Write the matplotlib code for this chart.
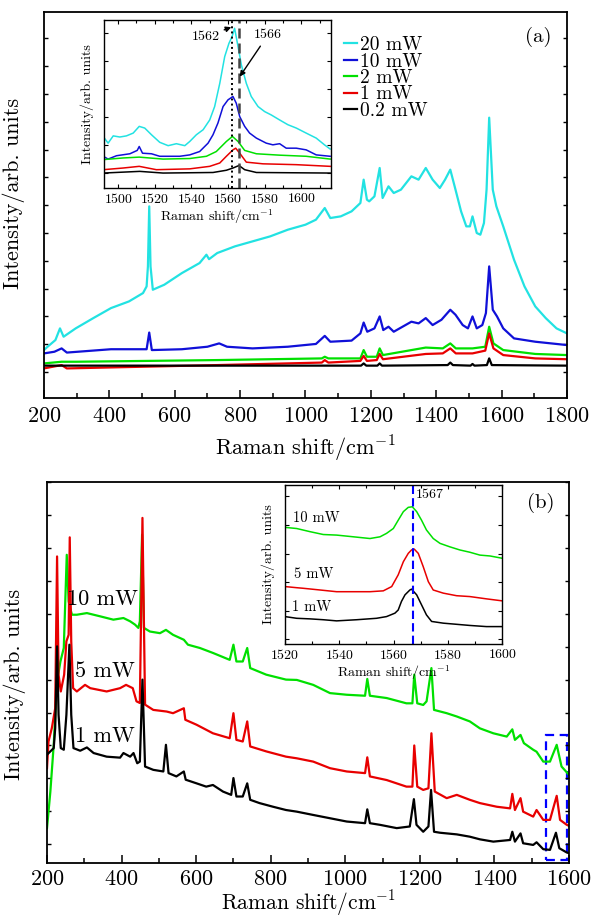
import matplotlib
matplotlib.use('Agg')
import matplotlib.pyplot as plt
from matplotlib.patches import Rectangle
from matplotlib.ticker import MultipleLocator, NullFormatter

plt.rcParams['font.family'] = 'serif'
plt.rcParams['font.serif'] = ['cmr10']
plt.rcParams['mathtext.fontset'] = 'cm'
plt.rcParams['axes.unicode_minus'] = False
plt.rcParams['axes.formatter.use_mathtext'] = True

# ---------------- (a) power series, full range ----------------
a_powers = ['20 mW', '10 mW', '2 mW', '1 mW', '0.2 mW']
a_colors = ['#22e2e2', '#1010d8', '#00e000', '#e80000', '#000000']

a20_x = [200, 211, 235, 249, 260, 297, 351, 405, 460, 503, 514, 518, 522, 526, 533, 568, 622, 676, 697, 705,
         730, 784, 838, 892, 946, 1000, 1032, 1059, 1076, 1108, 1141, 1168, 1178, 1188, 1195, 1211, 1227, 1236,
         1254, 1270, 1292, 1324, 1346, 1368, 1389, 1411, 1427, 1443, 1459, 1476, 1492, 1503, 1511, 1524, 1535,
         1546, 1554, 1562, 1573, 1584, 1605, 1638, 1670, 1703, 1735, 1768, 1800]
a20_y = [0.79, 0.91, 1.15, 1.57, 1.27, 1.57, 1.94, 2.30, 2.54, 2.84, 3.08, 3.80, 5.96, 3.80, 2.96, 3.14, 3.56,
         3.92, 4.22, 4.06, 4.28, 4.52, 4.70, 4.88, 5.12, 5.30, 5.48, 5.90, 5.54, 5.60, 5.78, 6.08, 6.92, 6.20,
         6.14, 6.32, 7.34, 6.26, 6.68, 6.44, 6.56, 7.04, 6.92, 7.34, 6.92, 6.62, 6.92, 7.28, 6.56, 5.78, 5.24,
         5.24, 5.60, 5.00, 4.94, 5.36, 6.56, 9.15, 6.56, 5.96, 5.24, 4.04, 3.08, 2.36, 1.94, 1.57, 1.39]

a10_x = [200, 232, 254, 270, 405, 460, 514, 522, 530, 622, 700, 736, 760, 838, 946, 1032, 1059, 1076, 1141,
         1168, 1178, 1189, 1211, 1227, 1238, 1254, 1270, 1324, 1346, 1368, 1389, 1416, 1443, 1459, 1481, 1497,
         1511, 1524, 1541, 1552, 1562, 1573, 1586, 1605, 1638, 1703, 1800]
a10_y = [0.67, 0.73, 0.85, 0.70, 0.82, 0.82, 0.82, 1.42, 0.79, 0.82, 0.91, 1.03, 0.91, 0.85, 0.91, 1.01, 1.30,
         1.09, 1.13, 1.39, 1.78, 1.45, 1.57, 2.00, 1.51, 1.63, 1.45, 1.81, 1.75, 1.94, 1.69, 1.88, 2.24, 2.06,
         1.69, 1.57, 2.00, 1.57, 1.69, 2.12, 3.80, 2.24, 2.00, 1.57, 1.21, 1.09, 0.97]

a2_x = [200, 254, 300, 730, 1050, 1059, 1070, 1168, 1178, 1188, 1218, 1227, 1237, 1368, 1420, 1443, 1460,
        1511, 1550, 1562, 1575, 1605, 1703, 1800]
a2_y = [0.31, 0.37, 0.37, 0.43, 0.49, 0.55, 0.49, 0.49, 0.79, 0.55, 0.55, 0.85, 0.61, 0.88, 0.85, 1.03, 0.85,
        0.85, 0.91, 1.63, 1.03, 0.79, 0.65, 0.61]

a1_x = [200, 254, 270, 730, 1050, 1059, 1070, 1168, 1178, 1188, 1218, 1227, 1237, 1368, 1420, 1443, 1460,
        1511, 1550, 1562, 1575, 1605, 1703, 1800]
a1_y = [0.13, 0.25, 0.13, 0.25, 0.34, 0.43, 0.34, 0.40, 0.58, 0.40, 0.43, 0.65, 0.46, 0.65, 0.67, 0.85, 0.67,
        0.67, 0.77, 1.39, 0.85, 0.61, 0.49, 0.46]

a02_x = [200, 1170, 1178, 1186, 1220, 1227, 1234, 1435, 1443, 1451, 1505, 1511, 1517, 1555, 1562, 1570, 1800]
a02_y = [0.23, 0.23, 0.31, 0.23, 0.23, 0.31, 0.23, 0.25, 0.34, 0.25, 0.23, 0.29, 0.23, 0.25, 0.49, 0.25, 0.23]

# (a) inset: G band region
ia20_x = [1491.8, 1494.5, 1497.3, 1500.9, 1504.5, 1508.2, 1511.5, 1514.5, 1518.2, 1522.7, 1527.3, 1531.8,
          1536.4, 1539.1, 1542.7, 1546.4, 1550.0, 1552.7, 1555.5, 1558.2, 1560.5, 1562.2, 1563.6, 1565.5,
          1567.3, 1570.0, 1572.7, 1576.4, 1580.0, 1583.6, 1588.2, 1592.7, 1597.3, 1602.7, 1608.2, 1612.7, 1615.8]
ia20_y = [1.31, 1.07, 1.33, 1.29, 1.33, 1.43, 1.67, 1.61, 1.37, 1.10, 0.98, 1.05, 0.98, 1.13, 1.37, 1.55, 1.90,
          2.38, 3.21, 4.17, 4.64, 4.88, 5.18, 4.52, 3.87, 3.21, 2.74, 2.38, 2.20, 2.08, 1.90, 1.73, 1.61, 1.43,
          1.25, 1.01, 0.86]
ia10_x = [1491.8, 1494.5, 1499.1, 1506.4, 1510.4, 1511.5, 1513.3, 1518.2, 1522.7, 1533.6, 1539.1, 1544.5,
          1549.1, 1551.8, 1554.5, 1557.3, 1560.0, 1562.7, 1564.5, 1566.4, 1569.1, 1571.8, 1575.5, 1580.9,
          1584.5, 1588.2, 1591.8, 1597.3, 1602.7, 1608.2, 1615.8]
ia10_y = [0.60, 0.50, 0.62, 0.69, 0.81, 0.95, 0.71, 0.69, 0.60, 0.60, 0.65, 0.77, 1.07, 1.37, 1.79, 2.38, 2.62,
          2.74, 2.50, 2.02, 1.67, 1.43, 1.25, 1.07, 1.01, 1.05, 0.89, 0.89, 0.83, 0.65, 0.60]
ia2_x = [1491.8, 1502.7, 1511.5, 1524.5, 1539.1, 1548.2, 1553.6, 1559.1, 1562.4, 1565.5, 1569.1, 1575.5,
         1588.2, 1602.7, 1615.8]
ia2_y = [0.48, 0.54, 0.57, 0.50, 0.52, 0.60, 0.77, 1.13, 1.31, 1.13, 0.81, 0.69, 0.64, 0.60, 0.50]
ia1_x = [1491.8, 1502.7, 1511.5, 1520.9, 1539.1, 1550.0, 1555.5, 1559.1, 1562.7, 1564.2, 1566.4, 1570.0,
         1579.1, 1597.3, 1615.8]
ia1_y = [0.12, 0.18, 0.24, 0.12, 0.15, 0.24, 0.36, 0.60, 0.83, 0.89, 0.71, 0.39, 0.33, 0.30, 0.24]
ia02_x = [1491.8, 1511.8, 1524.5, 1551.8, 1559.1, 1562.7, 1566.0, 1569.1, 1575.5, 1615.8]
ia02_y = [0.00, 0.06, 0.00, 0.02, 0.10, 0.18, 0.27, 0.12, 0.02, 0.00]

# ---------------- (b) power series, 200-1600 ----------------
b_powers = ['10 mW', '5 mW', '1 mW']
b_colors = ['#00e000', '#e80000', '#000000']

b10_x = [200, 209, 218, 227, 236, 245, 253, 258, 262, 267, 280, 307, 343, 378, 405, 423, 436, 445, 449, 455,
         460, 476, 503, 519, 538, 567, 578, 610, 645, 690, 700, 708, 725, 737, 745, 788, 841, 870, 914, 959,
         1004, 1053, 1059, 1066, 1111, 1164, 1180, 1185, 1193, 1209, 1218, 1231, 1238, 1272, 1299, 1334, 1361,
         1397, 1433, 1448, 1455, 1470, 1479, 1504, 1513, 1531, 1549, 1567, 1580, 1600]
b10_y = [0.49, 1.60, 3.02, 4.94, 5.55, 5.96, 8.79, 7.38, 7.17, 6.97, 6.97, 7.02, 6.92, 6.82, 6.87, 6.77, 6.67,
         6.57, 6.77, 9.40, 6.57, 6.46, 6.41, 6.51, 6.36, 6.21, 6.06, 5.96, 5.81, 5.60, 6.06, 5.55, 5.55, 5.96,
         5.35, 5.15, 5.00, 4.99, 4.84, 4.59, 4.54, 4.51, 5.02, 4.51, 4.44, 4.28, 4.28, 5.15, 4.28, 4.23, 4.34,
         5.35, 4.08, 3.98, 3.88, 3.73, 3.52, 3.37, 3.27, 3.49, 3.17, 3.32, 3.07, 2.87, 2.81, 2.51, 2.51, 3.02,
         2.36, 2.11]

b5_x = [200, 204, 213, 222, 227, 231, 237, 246, 252, 258, 261, 265, 270, 280, 302, 316, 360, 396, 412, 430,
        440, 449, 456, 463, 485, 521, 538, 567, 571, 601, 645, 690, 700, 708, 725, 737, 745, 788, 841, 870,
        914, 959, 1004, 1053, 1059, 1066, 1111, 1164, 1180, 1185, 1193, 1209, 1223, 1231, 1240, 1272, 1299,
        1334, 1361, 1406, 1442, 1448, 1455, 1470, 1477, 1504, 1513, 1531, 1549, 1567, 1576, 1594, 1600]
b5_y = [2.31, 3.12, 3.53, 4.13, 8.74, 5.15, 4.64, 5.15, 6.16, 6.36, 9.32, 6.16, 4.74, 4.64, 4.84, 4.74, 4.64,
        4.74, 4.84, 4.74, 4.34, 4.29, 9.91, 4.24, 4.08, 4.03, 3.98, 4.13, 3.78, 3.63, 3.37, 3.22, 3.98, 3.17,
        3.12, 3.73, 2.97, 2.82, 2.66, 2.61, 2.51, 2.31, 2.21, 2.16, 2.64, 2.06, 1.95, 1.75, 1.75, 3.00, 1.75,
        1.65, 1.70, 3.37, 1.60, 1.40, 1.50, 1.35, 1.25, 1.14, 1.09, 1.53, 1.04, 1.40, 0.99, 0.84, 1.04, 0.74,
        0.74, 1.47, 0.74, 0.59, 0.56]

b1_x = [200, 209, 218, 222, 227, 231, 237, 245, 252, 260, 265, 271, 289, 307, 325, 360, 396, 405, 423, 432,
        442, 449, 456, 463, 485, 512, 519, 526, 547, 567, 572, 601, 627, 645, 672, 694, 700, 708, 725, 737,
        745, 770, 806, 841, 870, 914, 959, 1004, 1053, 1059, 1066, 1093, 1138, 1173, 1184, 1191, 1209, 1223,
        1230, 1238, 1254, 1299, 1334, 1361, 1397, 1442, 1448, 1455, 1470, 1477, 1504, 1513, 1531, 1549, 1565,
        1574, 1594, 1600]
b1_y = [2.72, 2.82, 2.92, 3.53, 6.01, 3.93, 2.92, 2.87, 3.93, 6.06, 3.93, 2.92, 2.84, 2.94, 2.77, 2.66, 2.63,
        2.77, 2.66, 2.77, 2.46, 2.51, 5.00, 2.36, 2.26, 2.21, 3.02, 2.16, 2.06, 2.21, 1.96, 1.85, 1.75, 1.80,
        1.60, 1.50, 2.01, 1.45, 1.45, 1.85, 1.35, 1.25, 1.14, 1.04, 0.99, 0.89, 0.79, 0.69, 0.64, 1.06, 0.64,
        0.59, 0.49, 0.54, 1.37, 0.59, 0.38, 0.54, 1.65, 0.38, 0.35, 0.30, 0.23, 0.15, 0.08, 0.13, 0.38, 0.08,
        0.33, 0.03, -0.02, 0.06, -0.15, -0.17, 0.35, -0.12, -0.25, -0.27]

# (b) inset
ib10_x = [1520.0, 1524.3, 1529.2, 1534.1, 1539.0, 1545.2, 1551.3, 1555.0, 1557.4, 1559.9, 1561.7, 1563.6,
          1565.4, 1566.9, 1568.5, 1570.3, 1572.1, 1574.6, 1577.1, 1580.7, 1584.4, 1588.1, 1591.8, 1595.5, 1600.0]
ib10_y = [2.92, 2.88, 2.77, 2.67, 2.65, 2.59, 2.53, 2.59, 2.71, 2.88, 3.17, 3.47, 3.62, 3.64, 3.47, 3.17, 2.83,
          2.53, 2.36, 2.24, 2.13, 2.05, 1.95, 1.92, 1.84]
ib5_x = [1520.0, 1524.3, 1526.7, 1532.9, 1539.0, 1545.2, 1551.3, 1556.2, 1559.3, 1561.7, 1563.6, 1565.4,
         1566.6, 1567.6, 1569.1, 1570.9, 1572.8, 1574.6, 1578.3, 1583.2, 1588.1, 1594.2, 1600.0]
ib5_y = [0.85, 0.81, 0.79, 0.73, 0.67, 0.67, 0.67, 0.70, 0.85, 1.26, 1.72, 2.01, 2.13, 2.16, 2.01, 1.55, 1.02,
         0.73, 0.62, 0.53, 0.50, 0.42, 0.35]
ib1_x = [1520.0, 1524.3, 1529.2, 1534.1, 1539.0, 1546.4, 1553.7, 1557.4, 1560.5, 1561.7, 1562.9, 1564.2,
         1566.0, 1566.6, 1568.5, 1570.3, 1572.1, 1574.0, 1578.3, 1583.2, 1588.1, 1594.2, 1600.0]
ib1_y = [-0.20, -0.26, -0.28, -0.31, -0.35, -0.31, -0.26, -0.20, -0.08, 0.03, 0.33, 0.56, 0.73, 0.76, 0.56,
         0.21, -0.14, -0.37, -0.43, -0.47, -0.51, -0.55, -0.55]


def style_main(ax, pad=6):
    ax.tick_params(axis='x', which='both', direction='in', top=False, labelsize=16, pad=pad)
    ax.tick_params(axis='x', which='major', length=6, width=1.1)
    ax.tick_params(axis='x', which='minor', length=3.5, width=1.1)
    ax.tick_params(axis='y', which='both', direction='in', right=True, length=3, width=1.0)
    ax.yaxis.set_major_formatter(NullFormatter())
    ax.xaxis.set_minor_locator(MultipleLocator(100))
    for s in ax.spines.values():
        s.set_linewidth(1.3)


def style_inset(ax):
    ax.tick_params(axis='both', which='both', direction='in', top=True, right=True, labelsize=10, pad=3)
    ax.tick_params(axis='both', which='major', length=3, width=0.8)
    ax.tick_params(axis='both', which='minor', length=2, width=0.8)
    ax.yaxis.set_major_formatter(NullFormatter())
    for s in ax.spines.values():
        s.set_linewidth(1.0)


fig = plt.figure(figsize=(5.95, 9.19), dpi=100)

# ---- panel (a)
ax1 = fig.add_axes([0.0739, 0.5669, 0.879, 0.4200])
a_series = [(a20_x, a20_y), (a10_x, a10_y), (a2_x, a2_y), (a1_x, a1_y), (a02_x, a02_y)]
for (x, y), c, lab in zip(a_series, a_colors, a_powers):
    ax1.plot(x, y, color=c, lw=1.6, label=lab)
ax1.set_xlim(200, 1800)
ax1.set_ylim(-0.935, 12.95)
ax1.xaxis.set_major_locator(MultipleLocator(200))
ax1.yaxis.set_major_locator(MultipleLocator(1))
style_main(ax1)
ax1.set_xlabel('Raman shift/cm$^{-1}$', fontsize=16, labelpad=6)
ax1.set_ylabel('Intensity/arb. units', fontsize=16)
ax1.yaxis.set_label_coords(-0.036, 0.53)
ax1.text(0.945, 0.935, '(a)', transform=ax1.transAxes, fontsize=15, ha='center', va='center')
leg = ax1.legend(loc='upper left', bbox_to_anchor=(0.574, 0.937), frameon=False, fontsize=14,
                 handlelength=0.67, handletextpad=0.15, labelspacing=-0.08, borderpad=0, borderaxespad=0)

ins1 = fig.add_axes([0.174, 0.7954, 0.3815, 0.1828])
ia_series = [(ia20_x, ia20_y), (ia10_x, ia10_y), (ia2_x, ia2_y), (ia1_x, ia1_y), (ia02_x, ia02_y)]
for (x, y), c in zip(ia_series, a_colors):
    ins1.plot(x, y, color=c, lw=1.1)
ins1.axvline(1562, color='black', ls=':', lw=1.4)
ins1.axvline(1566, color='#444444', ls=(0, (4, 2)), lw=1.8)
ins1.set_xlim(1492, 1616)
ins1.set_ylim(-0.536, 5.476)
ins1.xaxis.set_major_locator(MultipleLocator(20))
ins1.xaxis.set_minor_locator(MultipleLocator(10))
ins1.yaxis.set_major_locator(MultipleLocator(1))
style_inset(ins1)
ins1.set_xlabel('Raman shift/cm$^{-1}$', fontsize=10, labelpad=1)
ins1.set_ylabel('Intensity/arb. units', fontsize=10, labelpad=4)
ins1.annotate('1562', xy=(1561.8, 5.22), xytext=(1548, 4.88), fontsize=10, ha='center', va='center',
              arrowprops=dict(arrowstyle='-|>', color='black', lw=1.0, mutation_scale=8, shrinkA=1, shrinkB=0))
ins1.annotate('1566', xy=(1566.4, 3.45), xytext=(1581.8, 4.94), fontsize=10, ha='center', va='center',
              arrowprops=dict(arrowstyle='-|>', color='black', lw=1.0, mutation_scale=8, shrinkA=2, shrinkB=0))

# ---- panel (b)
ax2 = fig.add_axes([0.0790, 0.0609, 0.8773, 0.4146])
b_series = [(b10_x, b10_y), (b5_x, b5_y), (b1_x, b1_y)]
for (x, y), c in zip(b_series, b_colors):
    ax2.plot(x, y, color=c, lw=1.6)
ax2.set_xlim(200, 1600)
ax2.set_ylim(-0.57, 11.0)
ax2.xaxis.set_major_locator(MultipleLocator(200))
ax2.yaxis.set_major_locator(MultipleLocator(1))
style_main(ax2, pad=4.5)
ax2.set_xlabel('Raman shift/cm$^{-1}$', fontsize=15.5, labelpad=-0.5)
ax2.set_ylabel('Intensity/arb. units', fontsize=16)
ax2.yaxis.set_label_coords(-0.04, 0.47)
ax2.text(0.945, 0.945, '(b)', transform=ax2.transAxes, fontsize=15, ha='center', va='center')
for lab, xy in zip(b_powers, [(350, 7.45), (355, 5.25), (355, 3.27)]):
    ax2.text(xy[0], xy[1], lab, fontsize=16, ha='center', va='center')
ax2.add_patch(Rectangle((1538, -0.47), 56.5, 3.79, fill=False, ec='#0000ff', ls=(0, (4, 2.5)), lw=1.6))

ins2 = fig.add_axes([0.479, 0.2992, 0.365, 0.173])
ib_series = [(ib10_x, ib10_y), (ib5_x, ib5_y), (ib1_x, ib1_y)]
for (x, y), c in zip(ib_series, b_colors):
    ins2.plot(x, y, color=c, lw=1.1)
ins2.axvline(1567, color='#0000ff', ls=(0, (4, 2)), lw=1.5)
ins2.set_xlim(1520, 1600)
ins2.set_ylim(-1.16, 4.40)
ins2.xaxis.set_major_locator(MultipleLocator(20))
ins2.xaxis.set_minor_locator(MultipleLocator(10))
ins2.yaxis.set_major_locator(MultipleLocator(1))
style_inset(ins2)
ins2.set_xlabel('Raman shift/cm$^{-1}$', fontsize=10, labelpad=1)
ins2.set_ylabel('Intensity/arb. units', fontsize=10, labelpad=4)
ins2.text(1568.2, 4.07, '1567', fontsize=10, ha='left', va='center')
for lab, xy in zip(b_powers, [(1531.7, 3.23), (1530.4, 1.29), (1529.8, 0.12)]):
    ins2.text(xy[0], xy[1], lab, fontsize=10.5, ha='center', va='center')

fig.savefig('out.png', dpi=100)
